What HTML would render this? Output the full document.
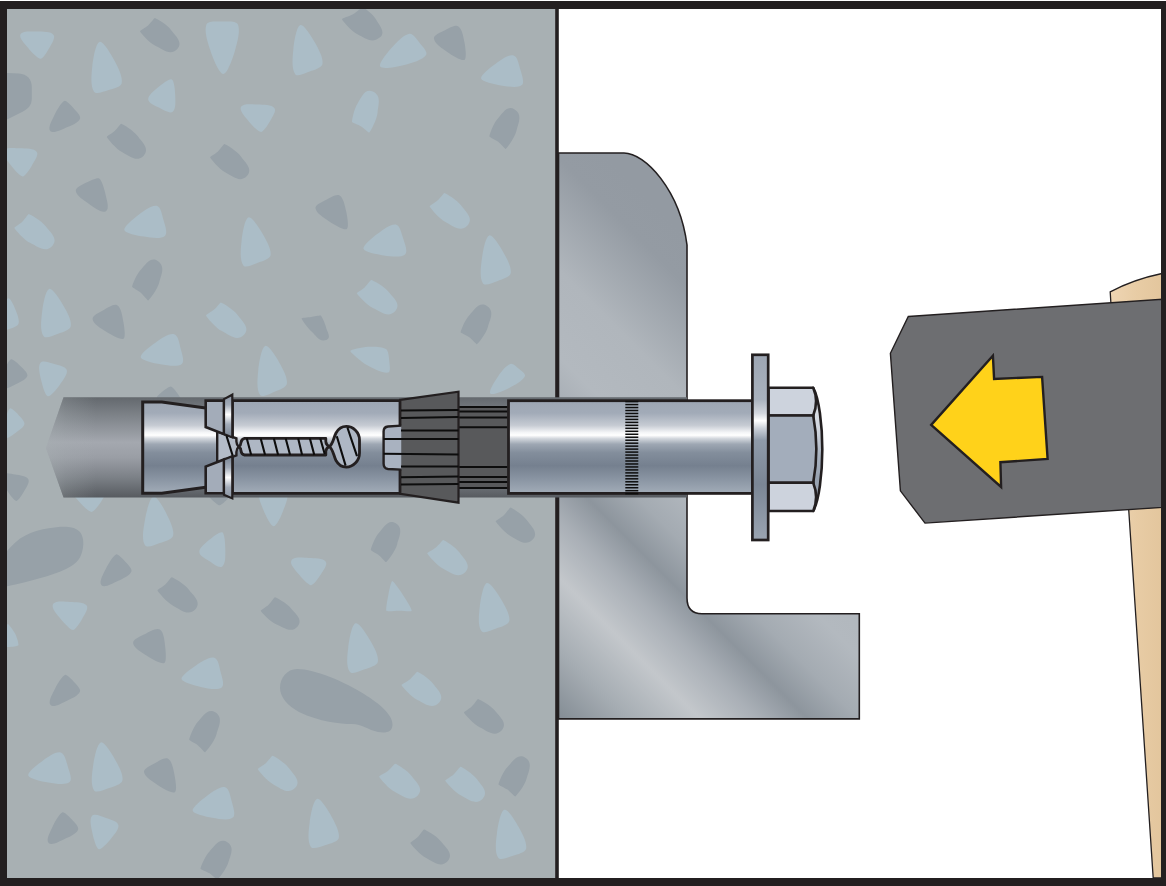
<!DOCTYPE html>
<html lang="en">
<head>
<meta charset="utf-8">
<title>Anchor bolt installation – step illustration</title>
<style>
html,body{margin:0;padding:0;background:#fff;}
body{width:1166px;height:886px;overflow:hidden;font-family:"Liberation Sans",sans-serif;}
svg{display:block;}
</style>
</head>
<body>
<svg width="1166" height="886" viewBox="0 0 1166 886" role="img" aria-label="Anchor bolt hammered through bracket into concrete">

<defs>
<linearGradient id="metal" gradientUnits="userSpaceOnUse" x1="0" y1="400" x2="0" y2="494"><stop offset="0" stop-color="#9da6b3"/><stop offset="0.14" stop-color="#a2abb8"/><stop offset="0.27" stop-color="#c6cbd3"/><stop offset="0.345" stop-color="#f4f5f7"/><stop offset="0.375" stop-color="#ffffff"/><stop offset="0.41" stop-color="#d3d7dd"/><stop offset="0.47" stop-color="#9ea7b3"/><stop offset="0.56" stop-color="#838e9c"/><stop offset="0.70" stop-color="#75808f"/><stop offset="0.85" stop-color="#8b96a4"/><stop offset="1" stop-color="#a3adb9"/></linearGradient>
<linearGradient id="washer" gradientUnits="userSpaceOnUse" x1="0" y1="355" x2="0" y2="540"><stop offset="0" stop-color="#9da6b3"/><stop offset="0.24" stop-color="#a9b2be"/><stop offset="0.315" stop-color="#d3d7de"/><stop offset="0.355" stop-color="#ffffff"/><stop offset="0.395" stop-color="#cdd2da"/><stop offset="0.46" stop-color="#8f9aa9"/><stop offset="0.7" stop-color="#7b8695"/><stop offset="1" stop-color="#9aa4b1"/></linearGradient>
<linearGradient id="hole" gradientUnits="userSpaceOnUse" x1="0" y1="397" x2="0" y2="498">
<stop offset="0" stop-color="#63686d"/><stop offset="0.2" stop-color="#80858b"/><stop offset="0.45" stop-color="#a4a8af"/><stop offset="0.6" stop-color="#9a9ea5"/><stop offset="0.8" stop-color="#7b8086"/><stop offset="1" stop-color="#565a5f"/></linearGradient>
<linearGradient id="holefade" gradientUnits="userSpaceOnUse" x1="46" y1="0" x2="96" y2="0">
<stop offset="0" stop-color="#a8b0b3" stop-opacity="0.5"/><stop offset="0.4" stop-color="#a8b0b3" stop-opacity="0.22"/><stop offset="1" stop-color="#a8b0b3" stop-opacity="0"/></linearGradient>
<linearGradient id="bracket" gradientUnits="userSpaceOnUse" x1="558" y1="728" x2="868" y2="418">
<stop offset="0" stop-color="#7f8890"/><stop offset="0.13" stop-color="#a6adb3"/><stop offset="0.244" stop-color="#c3c7cb"/><stop offset="0.34" stop-color="#a9afb6"/><stop offset="0.418" stop-color="#8d959d"/><stop offset="0.5" stop-color="#a4abb2"/><stop offset="0.6" stop-color="#b3b9bf"/><stop offset="0.74" stop-color="#b0b6bc"/><stop offset="0.92" stop-color="#949ba3"/><stop offset="1" stop-color="#939aa2"/></linearGradient>
<linearGradient id="wood" gradientUnits="userSpaceOnUse" x1="1110" y1="0" x2="1162" y2="0">
<stop offset="0" stop-color="#eed5b3"/><stop offset="0.5" stop-color="#e8cca5"/><stop offset="1" stop-color="#e3c69d"/></linearGradient>
<linearGradient id="ringU" gradientUnits="userSpaceOnUse" x1="0" y1="397" x2="0" y2="436">
<stop offset="0" stop-color="#8f99a7"/><stop offset="0.2" stop-color="#a3acb9"/><stop offset="0.45" stop-color="#ffffff"/><stop offset="0.7" stop-color="#a3acb9"/><stop offset="1" stop-color="#7d8897"/></linearGradient>
<linearGradient id="ringL" gradientUnits="userSpaceOnUse" x1="0" y1="458" x2="0" y2="497">
<stop offset="0" stop-color="#7d8897"/><stop offset="0.25" stop-color="#a3acb9"/><stop offset="0.5" stop-color="#ffffff"/><stop offset="0.75" stop-color="#a3acb9"/><stop offset="1" stop-color="#8f99a7"/></linearGradient>
<linearGradient id="chamfer" gradientUnits="userSpaceOnUse" x1="0" y1="388" x2="0" y2="511">
<stop offset="0" stop-color="#e4e7ed"/><stop offset="0.35" stop-color="#cfd5de"/><stop offset="0.55" stop-color="#a9b3c0"/><stop offset="0.75" stop-color="#96a1b0"/><stop offset="1" stop-color="#a9b3c0"/></linearGradient>
<clipPath id="cc"><rect x="7" y="9" width="550" height="869"/></clipPath>
</defs>


<rect x="0" y="0" width="1166" height="886" fill="#ffffff"/>
<!-- concrete -->
<rect x="7" y="9" width="550" height="869" fill="#a8b0b3"/>
<g clip-path="url(#cc)"><path d="M40.6,58.8 C38.1,58.9 31.8,52.5 28.4,48.3 C25.0,44.2 18.6,38.0 20.5,34.3 C22.6,30.4 31.6,31.5 37.1,31.6 C42.7,31.7 51.0,31.4 53.6,34.9 C55.7,37.8 51.4,44.0 49.3,48.0 C47.1,52.0 42.8,58.8 40.6,58.8Z" fill="#abbdc7"/>
<path d="M99.6,41.9 C103.2,41.0 110.7,53.7 114.4,60.6 C118.1,67.5 122.9,77.1 121.7,83.2 C121.0,87.0 113.3,88.5 108.6,90.0 C104.0,91.4 96.2,94.9 94.0,91.7 C90.3,86.3 91.4,74.7 92.3,66.3 C93.3,58.0 95.7,42.9 99.6,41.9Z" fill="#abbdc7"/>
<path d="M154.9,18.0 C154.3,17.9 150.6,23.2 148.1,25.4 C145.6,27.5 139.8,30.6 140.0,31.2 C140.5,32.5 149.3,43.0 155.8,46.0 C162.3,49.1 170.3,56.3 177.3,48.9 C183.7,42.1 174.9,35.2 171.0,29.9 C167.1,24.5 156.2,18.3 154.9,18.0Z" fill="#97a1a8"/>
<path d="M223.3,73.9 C219.1,73.9 213.2,58.9 210.4,50.6 C207.6,42.3 203.9,30.7 206.5,24.3 C208.1,20.5 216.9,21.5 222.2,21.5 C227.4,21.5 236.1,20.5 237.8,24.3 C240.6,30.5 237.4,42.1 235.0,50.4 C232.6,58.7 227.4,73.8 223.3,73.9Z" fill="#abbdc7"/>
<path d="M7,73 L19,73.6 C27,74 31.8,79.5 31.8,87 L31.8,98 C31.8,105 28.5,108.5 23,111.5 L7,119.5 Z" fill="#97a1a8"/>
<path d="M171.8,79.4 C169.6,78.3 162.2,83.9 158.2,87.3 C154.2,90.7 147.9,95.4 148.2,99.5 C148.4,103.1 155.2,105.8 159.4,107.8 C163.5,109.9 169.9,114.0 172.7,111.7 C176.1,109.1 175.4,100.9 175.2,95.5 C175.1,90.0 174.2,80.5 171.8,79.4Z" fill="#abbdc7"/>
<path d="M64.4,100.9 C66.2,100.3 71.2,105.4 73.8,108.4 C76.4,111.4 81.2,115.8 80.0,118.7 C78.5,122.7 71.3,125.5 66.3,127.5 C61.3,129.6 53.2,134.2 50.3,131.0 C47.4,127.8 52.3,119.7 54.6,114.7 C57.0,109.6 61.9,101.7 64.4,100.9Z" fill="#97a1a8"/>
<path d="M261.1,132.0 C258.6,132.1 252.2,125.5 248.8,121.4 C245.4,117.2 239.0,110.8 241.0,107.0 C243.1,103.1 252.2,104.4 257.9,104.6 C263.5,104.8 271.9,104.6 274.5,108.2 C276.6,111.1 272.2,117.3 270.0,121.3 C267.7,125.3 263.3,132.0 261.1,132.0Z" fill="#abbdc7"/>
<path d="M121.3,123.7 C120.6,123.5 117.1,128.8 114.7,131.0 C112.3,133.2 106.6,136.3 106.9,136.9 C107.3,138.2 115.9,148.9 122.3,152.2 C128.6,155.4 136.7,163.0 143.7,155.7 C150.3,148.7 141.5,141.6 137.6,136.1 C133.7,130.5 122.6,124.0 121.3,123.7Z" fill="#97a1a8"/>
<path d="M224.5,144.1 C223.9,143.9 220.4,149.2 218.0,151.4 C215.6,153.6 209.9,156.7 210.1,157.3 C210.6,158.6 219.1,169.3 225.5,172.6 C231.9,175.8 239.9,183.4 246.9,176.1 C253.6,169.1 244.7,162.0 240.9,156.5 C237.0,151.0 225.8,144.4 224.5,144.1Z" fill="#97a1a8"/>
<path d="M22.7,176.4 C20.2,176.4 14.1,169.6 10.9,165.3 C7.7,161.0 1.7,154.4 3.7,150.8 C5.8,146.9 14.8,148.2 20.3,148.3 C25.9,148.5 34.3,148.3 36.8,151.9 C38.9,155.0 34.3,161.3 31.9,165.4 C29.6,169.5 24.9,176.5 22.7,176.4Z" fill="#abbdc7"/>
<path d="M99.2,178.4 C97.4,177.3 90.3,180.5 86.4,182.6 C82.4,184.8 75.3,187.6 75.8,191.1 C76.4,195.8 84.0,200.5 89.1,203.9 C94.1,207.2 101.8,213.6 105.9,211.2 C109.8,209.0 106.7,199.7 105.5,194.2 C104.4,188.7 101.5,179.7 99.2,178.4Z" fill="#97a1a8"/>
<path d="M300.4,25.0 C303.8,24.0 311.2,36.0 314.9,42.6 C318.6,49.1 323.5,58.3 322.5,64.1 C321.8,67.9 314.3,69.9 309.7,71.6 C305.2,73.3 297.5,77.3 295.2,74.2 C291.4,68.9 292.5,57.4 293.4,49.1 C294.2,40.9 296.6,26.2 300.4,25.0Z" fill="#abbdc7"/>
<path d="M362.8,7.2 C362.1,7.0 356.5,12.3 353.0,14.3 C349.5,16.2 341.8,18.4 342.0,19.2 C342.3,20.6 351.4,31.3 357.9,34.5 C364.4,37.7 371.7,44.1 379.7,37.6 C386.4,32.3 379.1,25.0 376.2,19.7 C373.2,14.4 364.0,7.5 362.8,7.2Z" fill="#97a1a8"/>
<path d="M380.3,66.6 C378.3,63.8 387.0,53.1 391.9,47.6 C396.8,42.1 403.7,34.7 409.4,33.8 C412.9,33.2 416.8,39.3 419.7,42.9 C422.5,46.4 428.2,52.1 426.1,55.0 C422.5,60.1 411.9,63.0 404.3,64.9 C396.6,66.9 382.5,69.7 380.3,66.6Z" fill="#abbdc7"/>
<path d="M464.5,59.9 C461.9,61.3 452.4,55.6 447.3,52.0 C442.1,48.5 434.4,43.5 433.9,38.6 C433.5,35.0 440.9,32.4 445.0,30.3 C449.2,28.2 455.4,24.4 458.4,26.4 C462.2,28.8 463.5,37.0 464.5,42.6 C465.5,48.2 466.8,58.6 464.5,59.9Z" fill="#97a1a8"/>
<path d="M481.1,78.4 C480.4,75.3 489.8,67.8 495.3,63.9 C500.7,60.1 508.4,54.2 513.5,55.4 C517.5,56.2 518.9,64.5 520.3,69.5 C521.7,74.4 524.9,82.5 521.8,85.1 C517.6,88.5 507.7,86.5 500.9,85.4 C494.1,84.2 482.0,81.5 481.1,78.4Z" fill="#abbdc7"/>
<path d="M352.0,122.0 C352.1,122.6 358.3,124.7 361.2,126.4 C364.1,128.2 368.8,133.0 369.3,132.6 C370.4,131.7 377.0,119.7 377.6,112.6 C378.2,105.5 382.0,95.8 372.8,91.6 C364.6,87.9 361.1,98.2 357.6,103.5 C354.0,108.7 351.8,120.8 352.0,122.0Z" fill="#abbdc7"/>
<path d="M489.4,136.4 C489.4,137.1 495.5,139.8 498.2,141.8 C500.9,143.9 505.2,149.2 505.7,148.9 C506.9,148.2 515.0,137.4 516.5,130.5 C518.1,123.7 523.1,114.6 514.6,109.4 C506.9,104.6 502.1,114.2 497.7,118.8 C493.3,123.5 489.4,135.1 489.4,136.4Z" fill="#97a1a8"/>
<path d="M28.8,214.0 C28.2,213.9 24.7,219.4 22.3,221.7 C19.9,224.0 14.2,227.3 14.4,227.9 C14.9,229.3 23.9,239.9 30.5,243.1 C37.0,246.2 45.4,253.7 52.3,246.0 C58.9,238.8 49.8,231.8 45.7,226.3 C41.6,220.7 30.1,214.3 28.8,214.0Z" fill="#abbdc7"/>
<path d="M124.3,229.9 C123.5,226.8 132.9,219.0 138.3,214.9 C143.8,210.9 151.5,204.7 156.7,205.8 C160.7,206.6 162.1,215.0 163.5,220.1 C164.9,225.2 168.1,233.3 164.9,235.9 C160.8,239.4 150.9,237.6 144.1,236.6 C137.3,235.6 125.1,233.0 124.3,229.9Z" fill="#abbdc7"/>
<path d="M248.5,217.4 C251.8,216.4 259.3,228.0 263.0,234.4 C266.7,240.7 271.6,249.6 270.6,255.3 C269.9,259.1 262.4,261.1 257.9,262.8 C253.3,264.5 245.6,268.5 243.4,265.4 C239.5,260.3 240.7,249.0 241.6,240.9 C242.5,232.9 244.8,218.5 248.5,217.4Z" fill="#abbdc7"/>
<path d="M132.1,286.8 C132.1,287.5 138.1,290.5 140.8,292.8 C143.5,295.1 147.6,300.8 148.2,300.5 C149.4,299.8 157.6,289.1 159.3,282.2 C160.9,275.3 166.0,266.5 157.7,260.9 C150.3,255.9 145.2,265.2 140.8,269.7 C136.3,274.2 132.1,285.5 132.1,286.8Z" fill="#97a1a8"/>
<path d="M49.2,288.9 C52.4,287.9 59.7,299.3 63.3,305.6 C67.0,311.8 71.9,320.6 70.8,326.2 C70.1,330.0 62.7,332.0 58.1,333.7 C53.5,335.4 45.9,339.3 43.6,336.2 C39.8,331.2 41.2,320.0 42.1,312.1 C43.0,304.1 45.5,290.0 49.2,288.9Z" fill="#abbdc7"/>
<path d="M8.3,298.3 C10.5,297.9 14.0,305.9 15.7,310.3 C17.4,314.6 19.8,320.6 18.4,324.0 C17.2,326.8 11.6,328.2 7.8,329.4 C4.1,330.5 -2.5,333.4 -3.9,330.7 C-6.1,326.7 -2.8,318.8 -0.7,313.4 C1.4,308.0 5.7,298.8 8.3,298.3Z" fill="#abbdc7"/>
<path d="M123.5,338.8 C121.0,340.3 111.5,335.1 106.3,331.8 C101.1,328.6 93.2,324.1 92.6,319.3 C92.2,315.6 99.5,312.4 103.7,310.1 C107.8,307.7 114.0,303.4 117.2,305.3 C121.1,307.5 122.3,315.8 123.3,321.4 C124.4,327.1 125.8,337.4 123.5,338.8Z" fill="#97a1a8"/>
<path d="M220.9,302.4 C220.3,302.2 216.6,307.5 214.1,309.6 C211.7,311.8 205.8,314.7 206.0,315.4 C206.5,316.7 215.3,327.8 221.9,331.1 C228.5,334.5 236.7,342.3 244.0,334.8 C250.8,327.8 241.6,320.5 237.6,314.9 C233.6,309.3 222.2,302.7 220.9,302.4Z" fill="#abbdc7"/>
<path d="M140.7,357.2 C139.9,354.1 149.7,346.5 155.4,342.7 C161.0,338.8 168.9,333.0 174.2,334.2 C178.1,335.1 179.4,343.4 180.6,348.4 C181.9,353.4 184.9,361.4 181.8,363.9 C177.5,367.3 167.5,365.4 160.6,364.3 C153.7,363.1 141.5,360.4 140.7,357.2Z" fill="#abbdc7"/>
<path d="M11.0,359.2 C12.7,358.6 17.9,363.3 20.6,366.2 C23.4,369.0 28.1,373.0 27.3,376.0 C26.2,379.7 19.6,382.4 15.2,384.5 C10.8,386.6 3.7,391.0 0.9,388.3 C-2.0,385.4 1.6,377.7 3.3,372.9 C5.0,368.0 8.7,360.1 11.0,359.2Z" fill="#97a1a8"/>
<path d="M47.8,396.2 C45.2,395.6 42.4,385.8 41.1,380.1 C39.9,374.5 37.6,366.2 40.5,362.7 C42.8,359.9 49.9,362.8 54.3,364.0 C58.7,365.3 65.9,366.6 66.8,370.1 C67.9,374.2 62.9,380.5 59.7,384.9 C56.5,389.2 50.3,396.9 47.8,396.2Z" fill="#abbdc7"/>
<path d="M170.9,386.4 C172.2,386.5 175.4,390.3 177.0,392.8 C178.6,395.2 182.0,399.2 180.5,400.9 C178.4,403.2 172.5,402.3 168.5,401.9 C164.6,401.5 158.5,401.4 157.0,398.7 C155.9,396.5 160.5,393.3 162.8,391.3 C165.2,389.2 169.4,386.2 170.9,386.4Z" fill="#97a1a8"/>
<path d="M265.3,345.9 C268.6,344.8 275.9,356.5 279.5,362.9 C283.2,369.3 287.9,378.1 286.9,383.8 C286.3,387.6 279.0,390.0 274.6,391.8 C270.1,393.7 262.4,398.1 260.1,395.0 C256.3,389.8 257.4,378.2 258.3,370.0 C259.2,361.7 261.6,347.1 265.3,345.9Z" fill="#abbdc7"/>
<path d="M346.8,229.0 C344.2,230.5 334.5,224.9 329.3,221.4 C324.0,217.9 316.1,213.1 315.5,208.2 C315.0,204.6 322.4,201.8 326.4,199.7 C330.4,197.5 336.5,193.6 339.6,195.5 C343.5,197.8 345.0,206.0 346.2,211.6 C347.4,217.2 349.1,227.6 346.8,229.0Z" fill="#97a1a8"/>
<path d="M444.5,192.9 C443.9,192.7 440.2,198.1 437.7,200.3 C435.3,202.6 429.4,205.7 429.6,206.3 C430.1,207.7 438.9,218.7 445.5,222.0 C452.1,225.3 460.3,233.1 467.5,225.5 C474.3,218.4 465.2,211.2 461.2,205.5 C457.2,199.9 445.8,193.2 444.5,192.9Z" fill="#abbdc7"/>
<path d="M363.5,248.8 C362.6,245.8 372.1,237.8 377.5,233.8 C382.9,229.7 390.6,223.5 395.9,224.5 C399.9,225.3 401.6,233.6 403.2,238.6 C404.7,243.7 408.2,251.7 405.0,254.4 C400.8,258.0 390.7,256.3 383.8,255.4 C376.8,254.4 364.4,252.0 363.5,248.8Z" fill="#abbdc7"/>
<path d="M489.3,235.4 C492.6,234.4 499.8,246.1 503.4,252.4 C507.0,258.8 511.9,267.7 510.7,273.3 C510.0,277.2 502.4,279.2 497.8,280.9 C493.2,282.5 485.3,286.5 483.0,283.4 C479.3,278.2 480.8,266.9 481.9,258.8 C482.9,250.8 485.6,236.5 489.3,235.4Z" fill="#abbdc7"/>
<path d="M371.3,280.1 C370.6,279.9 367.1,285.2 364.7,287.4 C362.3,289.6 356.6,292.7 356.8,293.3 C357.4,294.6 366.6,305.2 373.3,308.3 C380.0,311.3 388.4,318.7 395.4,311.0 C401.8,303.8 392.4,297.0 388.3,291.6 C384.1,286.3 372.6,280.3 371.3,280.1Z" fill="#abbdc7"/>
<path d="M460.6,332.2 C460.6,332.8 466.6,335.4 469.3,337.3 C472.1,339.3 476.3,344.5 476.9,344.2 C478.1,343.5 486.3,333.3 488.0,326.7 C489.8,320.0 495.1,311.2 486.9,306.0 C479.2,301.0 474.1,310.3 469.6,314.9 C465.0,319.4 460.6,330.9 460.6,332.2Z" fill="#97a1a8"/>
<path d="M301.6,318.5 C301.6,317.8 308.0,317.5 311.2,317.0 C314.4,316.6 320.3,315.2 320.8,315.6 C321.5,316.1 325.1,323.1 326.0,327.2 C326.9,331.3 332.0,338.2 326.3,339.9 C318.9,342.3 316.0,335.3 311.8,331.7 C307.7,328.1 301.7,319.6 301.6,318.5Z" fill="#97a1a8"/>
<path d="M350.3,350.9 C350.3,350.0 362.0,347.1 368.0,346.8 C374.0,346.5 382.5,346.8 386.0,349.1 C388.4,350.7 388.9,356.7 389.2,360.6 C389.6,364.6 391.0,372.0 388.3,372.6 C383.2,373.6 373.7,368.8 367.3,365.2 C361.0,361.5 350.2,352.1 350.3,350.9Z" fill="#abbdc7"/>
<path d="M490.3,393.4 C488.3,391.5 494.3,381.8 497.7,376.9 C501.1,371.9 506.0,365.6 510.4,363.9 C512.7,363.0 516.3,366.7 518.8,368.8 C521.2,370.8 526.0,374.0 524.9,376.2 C522.6,380.8 515.0,385.1 509.1,387.9 C503.3,390.8 492.5,395.6 490.3,393.4Z" fill="#abbdc7"/>
<path d="M9.9,408.4 C11.3,407.5 16.1,412.2 18.5,414.9 C21.0,417.5 24.8,421.2 24.4,424.0 C24.0,427.0 19.3,430.2 16.1,432.4 C12.9,434.6 7.7,439.4 5.4,437.4 C2.5,434.8 4.3,427.3 5.0,422.5 C5.8,417.6 7.8,409.5 9.9,408.4Z" fill="#abbdc7"/>
<path d="M16.3,500.9 C13.9,500.6 8.9,493.6 6.3,489.2 C3.8,484.8 -1.0,478.2 1.1,474.8 C2.9,471.6 10.5,473.8 15.1,474.5 C19.7,475.3 26.6,476.0 28.3,479.2 C29.9,482.1 26.3,487.5 24.2,491.1 C22.2,494.8 18.2,501.1 16.3,500.9Z" fill="#97a1a8"/>
<path d="M91.6,511.9 C89.1,512.0 82.6,505.8 79.2,501.7 C75.7,497.7 69.0,491.4 71.1,487.8 C73.4,483.7 82.9,484.6 88.9,484.6 C94.9,484.6 104.0,484.0 106.8,487.8 C109.0,490.8 103.9,497.2 101.4,501.2 C98.8,505.3 93.9,511.9 91.6,511.9Z" fill="#abbdc7"/>
<path d="M153.5,496.6 C156.8,495.7 163.5,507.8 166.8,514.4 C170.1,520.9 174.5,530.1 173.1,535.7 C172.2,539.5 164.7,541.4 159.9,543.0 C155.2,544.6 147.2,548.6 145.0,545.3 C141.4,539.8 143.4,528.4 144.9,520.2 C146.3,512.0 149.7,497.6 153.5,496.6Z" fill="#abbdc7"/>
<path d="M219.7,505.2 C218.0,505.2 213.5,501.4 211.1,498.9 C208.6,496.3 203.6,492.3 205.2,490.0 C207.3,487.0 214.5,487.5 219.1,487.5 C223.8,487.5 230.9,487.1 233.1,490.0 C234.7,492.1 230.0,496.2 227.8,498.8 C225.5,501.3 221.3,505.2 219.7,505.2Z" fill="#97a1a8"/>
<path d="M273.7,526.2 C270.7,526.2 265.7,515.7 263.3,509.7 C260.8,503.7 257.1,495.1 259.2,490.5 C260.7,487.1 268.5,488.0 273.2,488.0 C277.9,488.0 285.5,487.2 287.1,490.5 C289.3,495.0 285.9,503.6 283.6,509.6 C281.4,515.6 276.8,526.2 273.7,526.2Z" fill="#abbdc7"/>
<path d="M7,551 C12,545 18,539 25.4,535.4 C33,531.5 41,529.5 48.8,528.3 C55,527.3 60,526.6 66,526.8 C72,527 76.5,528.5 79.2,531.3 C82.5,534.5 83.5,539.5 83.3,544.5 C83,550 81.5,555 79.2,558.8 C76,563.5 71,566.5 66,568.9 C58,572.7 49,575.5 40.6,578 C30,581 18,584 7,586.3 Z" fill="#97a1a8"/>
<path d="M222.3,532.3 C220.2,531.1 212.9,536.7 209.0,540.0 C205.1,543.3 199.2,547.9 199.3,551.9 C199.3,555.5 205.6,558.8 209.5,561.2 C213.3,563.7 219.4,568.6 222.3,566.4 C225.9,563.7 225.3,555.1 225.3,549.3 C225.3,543.6 224.6,533.6 222.3,532.3Z" fill="#abbdc7"/>
<path d="M116.0,554.4 C117.7,553.8 122.7,558.8 125.3,561.7 C127.8,564.5 132.5,568.8 131.4,571.6 C129.8,575.7 122.7,578.9 117.7,581.1 C112.7,583.4 104.4,588.4 101.5,585.3 C98.4,582.0 103.5,573.7 106.0,568.5 C108.4,563.4 113.5,555.4 116.0,554.4Z" fill="#97a1a8"/>
<path d="M171.7,577.3 C171.1,577.1 167.6,582.4 165.3,584.6 C162.9,586.8 157.3,589.9 157.5,590.5 C158.0,591.8 166.9,602.7 173.5,605.9 C180.0,609.2 188.4,616.9 195.4,609.3 C202.1,602.1 192.8,595.0 188.7,589.5 C184.6,583.9 173.0,577.5 171.7,577.3Z" fill="#97a1a8"/>
<path d="M73.1,630.0 C70.5,630.0 64.1,623.3 60.7,619.0 C57.3,614.7 50.9,608.1 53.0,604.3 C55.1,600.4 64.3,601.7 69.9,601.9 C75.6,602.1 84.1,601.8 86.7,605.5 C88.9,608.5 84.4,614.9 82.1,619.0 C79.8,623.1 75.3,630.0 73.1,630.0Z" fill="#abbdc7"/>
<path d="M7.9,623.9 C8.6,623.9 13.3,630.1 15.1,633.6 C16.9,637.2 18.9,644.3 18.4,645.2 C18.1,645.9 11.8,647.0 8.4,647.0 C5.0,647.0 -1.3,645.9 -1.7,645.2 C-2.1,644.4 -0.4,637.2 1.2,633.7 C2.8,630.1 7.3,623.9 7.9,623.9Z" fill="#abbdc7"/>
<path d="M164.3,663.1 C161.7,664.5 152.1,659.2 146.9,655.8 C141.6,652.5 133.4,647.9 133.1,643.0 C132.8,639.0 140.8,636.1 145.2,633.9 C149.7,631.6 156.5,627.5 159.9,629.6 C163.7,631.9 164.4,640.3 165.1,645.9 C165.8,651.5 166.7,661.8 164.3,663.1Z" fill="#97a1a8"/>
<path d="M275.0,597.2 C274.3,597.1 270.9,602.5 268.6,604.7 C266.2,607.0 260.5,610.3 260.8,610.9 C261.3,612.1 270.3,621.8 276.7,624.5 C283.1,627.2 291.1,633.8 297.6,626.4 C303.6,619.6 294.9,613.2 290.9,608.2 C287.0,603.1 276.2,597.4 275.0,597.2Z" fill="#97a1a8"/>
<path d="M181.5,679.0 C180.8,676.0 190.5,669.0 196.0,665.4 C201.5,661.9 209.3,656.5 214.3,657.8 C218.2,658.8 219.4,667.0 220.6,672.0 C221.9,676.9 224.9,685.1 221.7,687.5 C217.3,690.7 207.5,688.3 200.8,686.9 C194.1,685.4 182.2,682.2 181.5,679.0Z" fill="#abbdc7"/>
<path d="M370.8,550.1 C370.8,550.8 376.5,553.4 379.1,555.4 C381.6,557.3 385.6,562.5 386.1,562.1 C387.3,561.4 395.5,551.0 397.2,544.2 C398.8,537.5 404.1,528.5 395.7,523.3 C388.1,518.4 383.3,528.0 379.0,532.7 C374.6,537.4 370.8,548.9 370.8,550.1Z" fill="#97a1a8"/>
<path d="M510.5,507.6 C509.9,507.5 506.2,512.9 503.8,515.2 C501.3,517.5 495.4,520.7 495.6,521.3 C496.1,522.6 504.8,533.2 511.2,536.4 C517.7,539.6 525.7,547.0 532.7,539.6 C539.3,532.7 530.6,525.6 526.7,520.1 C522.9,514.5 511.8,507.9 510.5,507.6Z" fill="#97a1a8"/>
<path d="M443.3,540.0 C442.6,539.9 438.6,545.3 435.9,547.4 C433.2,549.6 427.0,552.6 427.2,553.2 C427.7,554.6 436.7,565.5 443.3,568.7 C449.9,572.0 458.0,579.4 465.4,572.0 C472.1,565.3 463.3,558.0 459.5,552.5 C455.6,547.0 444.6,540.3 443.3,540.0Z" fill="#abbdc7"/>
<path d="M311.1,585.2 C308.6,585.1 302.3,578.7 299.0,574.5 C295.7,570.4 289.3,564.0 291.4,560.4 C293.7,556.5 303.0,557.7 308.8,558.0 C314.5,558.2 323.2,558.0 325.8,561.7 C327.9,564.7 323.0,570.8 320.6,574.8 C318.1,578.7 313.3,585.2 311.1,585.2Z" fill="#abbdc7"/>
<path d="M392.2,581.1 C393.6,581.1 399.9,590.3 403.1,595.2 C406.4,600.1 412.1,609.3 411.7,610.8 C411.4,612.0 403.2,610.8 399.1,610.8 C394.9,610.8 387.1,611.8 386.4,610.8 C385.6,609.7 387.2,600.7 388.2,595.8 C389.1,590.8 391.1,581.2 392.2,581.1Z" fill="#abbdc7"/>
<path d="M486.9,583.0 C490.3,582.0 497.8,593.6 501.5,600.0 C505.3,606.4 510.3,615.3 509.3,621.0 C508.6,624.8 500.9,626.8 496.2,628.5 C491.5,630.2 483.7,634.2 481.4,631.0 C477.5,625.9 478.9,614.6 479.8,606.5 C480.8,598.5 483.3,584.1 486.9,583.0Z" fill="#abbdc7"/>
<path d="M355.6,623.2 C359.0,622.1 366.5,634.0 370.2,640.5 C374.0,646.9 379.0,656.0 377.9,661.8 C377.2,665.7 369.5,667.7 364.7,669.3 C360.0,671.0 352.1,675.0 349.8,671.8 C345.9,666.6 347.3,655.1 348.3,647.0 C349.3,638.8 351.9,624.3 355.6,623.2Z" fill="#abbdc7"/>
<path d="M64.9,674.9 C66.5,674.3 71.4,679.1 74.0,681.9 C76.5,684.7 81.1,688.9 80.0,691.6 C78.5,695.6 71.5,698.8 66.5,701.0 C61.6,703.2 53.5,708.2 50.6,705.0 C47.6,701.8 52.6,693.7 55.0,688.7 C57.4,683.6 62.4,675.8 64.9,674.9Z" fill="#97a1a8"/>
<path d="M189.2,739.8 C189.2,740.4 195.1,743.1 197.8,745.2 C200.4,747.3 204.5,752.6 205.1,752.2 C206.3,751.5 214.8,740.8 216.6,733.9 C218.4,727.0 223.8,717.8 215.3,712.3 C207.5,707.2 202.4,717.1 197.9,721.8 C193.4,726.6 189.2,738.5 189.2,739.8Z" fill="#97a1a8"/>
<path d="M28.3,775.4 C27.4,772.3 37.0,764.8 42.4,761.0 C47.8,757.1 55.5,751.3 60.6,752.4 C64.7,753.2 66.3,761.4 67.8,766.4 C69.3,771.4 72.7,779.5 69.6,782.1 C65.3,785.6 55.2,783.6 48.3,782.4 C41.4,781.3 29.1,778.6 28.3,775.4Z" fill="#abbdc7"/>
<path d="M100.8,742.4 C104.1,741.4 111.4,753.1 115.0,759.4 C118.6,765.8 123.6,774.7 122.4,780.4 C121.6,784.3 113.9,786.3 109.1,787.9 C104.4,789.6 96.4,793.6 94.1,790.4 C90.3,785.2 92.0,773.9 93.1,765.8 C94.2,757.8 97.1,743.5 100.8,742.4Z" fill="#abbdc7"/>
<path d="M174.8,792.2 C172.3,793.7 162.8,788.3 157.6,784.9 C152.5,781.6 144.6,776.9 144.0,772.1 C143.6,768.5 150.8,765.5 154.9,763.2 C158.9,761.0 165.0,756.8 168.1,758.7 C172.0,761.0 173.4,769.2 174.5,774.9 C175.6,780.5 177.2,790.8 174.8,792.2Z" fill="#97a1a8"/>
<path d="M192.7,810.7 C192.0,807.6 201.4,800.0 206.8,796.0 C212.2,792.1 220.0,786.0 225.1,787.2 C229.2,788.1 230.4,796.6 231.8,801.7 C233.1,806.8 236.1,815.0 232.9,817.6 C228.8,821.0 218.9,818.9 212.2,817.7 C205.5,816.6 193.5,813.8 192.7,810.7Z" fill="#abbdc7"/>
<path d="M62.5,812.3 C64.2,811.7 69.2,816.7 71.9,819.6 C74.5,822.5 79.2,826.8 78.1,829.7 C76.6,833.7 69.5,836.7 64.6,838.9 C59.6,841.2 51.5,846.0 48.6,842.9 C45.6,839.6 50.5,831.5 52.8,826.3 C55.1,821.2 60.0,813.2 62.5,812.3Z" fill="#97a1a8"/>
<path d="M98.8,849.3 C96.2,848.4 93.5,838.7 92.4,833.1 C91.3,827.5 89.0,819.1 92.1,815.8 C94.6,813.0 101.7,816.5 106.1,818.1 C110.5,819.6 117.6,821.5 118.4,825.1 C119.3,829.1 114.1,834.9 110.8,839.0 C107.5,843.0 101.1,850.0 98.8,849.3Z" fill="#abbdc7"/>
<path d="M200.5,868.7 C200.5,869.4 206.7,871.5 209.5,873.3 C212.2,875.1 216.8,879.8 217.3,879.5 C218.5,878.9 226.5,868.9 228.3,862.5 C230.0,856.0 235.4,847.2 227.3,842.2 C219.4,837.4 214.3,846.6 209.7,851.2 C205.0,855.8 200.5,867.4 200.5,868.7Z" fill="#97a1a8"/>
<path d="M272.6,755.8 C271.9,755.7 268.2,761.0 265.8,763.2 C263.3,765.4 257.4,768.4 257.7,769.1 C258.2,770.4 266.9,781.2 273.4,784.4 C279.9,787.7 288.0,795.3 295.2,787.8 C301.8,780.9 292.9,773.8 289.0,768.2 C285.1,762.7 273.9,756.1 272.6,755.8Z" fill="#abbdc7"/>
<path d="M297,669 C315,669 345,682 364,694 C380,704 393,715 392.5,725 C392,733 385,733 378,732 C368,730 362,724 352,724 C340,724 320,722 299,712 C288,706 280,697 280,688 C280,678 287,669 297,669 Z" fill="#97a1a8"/>
<path d="M417.4,671.8 C416.7,671.7 412.7,677.0 410.1,679.2 C407.5,681.4 401.3,684.4 401.5,685.0 C402.0,686.3 410.9,696.8 417.4,699.9 C423.9,702.9 431.9,710.0 439.0,702.7 C445.5,696.1 436.9,689.1 433.1,683.8 C429.4,678.4 418.6,672.1 417.4,671.8Z" fill="#abbdc7"/>
<path d="M478.1,698.9 C477.5,698.8 474.1,704.2 471.7,706.5 C469.4,708.8 463.7,712.0 463.9,712.6 C464.5,713.9 473.5,724.5 480.1,727.5 C486.6,730.6 495.0,738.0 501.8,730.3 C508.3,723.1 499.1,716.3 495.0,710.8 C490.9,705.4 479.4,699.2 478.1,698.9Z" fill="#97a1a8"/>
<path d="M498.5,784.4 C498.5,785.1 504.7,787.6 507.5,789.6 C510.3,791.6 514.7,796.8 515.3,796.4 C516.5,795.8 524.8,785.4 526.5,778.7 C528.2,772.0 533.6,763.0 525.3,757.8 C517.5,752.8 512.3,762.2 507.7,766.8 C503.0,771.4 498.5,783.1 498.5,784.4Z" fill="#97a1a8"/>
<path d="M395.3,763.8 C394.6,763.6 390.5,768.9 387.9,771.1 C385.2,773.2 378.9,776.1 379.2,776.7 C379.7,778.1 388.8,789.1 395.5,792.3 C402.2,795.6 410.4,803.0 417.8,795.5 C424.5,788.7 415.5,781.6 411.6,776.1 C407.7,770.5 396.6,764.0 395.3,763.8Z" fill="#abbdc7"/>
<path d="M460.6,766.7 C459.9,766.5 456.1,772.1 453.6,774.4 C451.0,776.7 445.0,779.9 445.2,780.6 C445.7,781.9 454.6,792.5 461.1,795.6 C467.6,798.8 475.7,806.1 482.7,798.7 C489.3,791.8 480.6,784.7 476.8,779.1 C472.9,773.6 461.9,766.9 460.6,766.7Z" fill="#abbdc7"/>
<path d="M317.1,798.9 C320.5,797.9 327.8,809.9 331.5,816.4 C335.1,823.0 340.0,832.2 338.8,837.9 C338.0,841.7 330.3,843.4 325.6,844.9 C321.0,846.4 313.1,850.0 310.9,846.9 C307.2,841.6 308.6,830.4 309.7,822.3 C310.7,814.3 313.4,799.9 317.1,798.9Z" fill="#abbdc7"/>
<path d="M424.1,829.6 C423.5,829.4 420.2,834.7 417.9,837.0 C415.6,839.2 410.2,842.4 410.4,843.0 C410.9,844.3 419.7,854.9 426.2,858.1 C432.7,861.2 441.0,868.8 447.8,861.1 C454.3,853.9 445.1,847.0 441.0,841.6 C436.9,836.1 425.4,829.8 424.1,829.6Z" fill="#97a1a8"/>
<path d="M504.4,809.7 C507.9,808.7 515.2,820.7 518.8,827.3 C522.4,833.8 527.3,843.0 526.1,848.7 C525.3,852.5 517.6,854.2 512.9,855.7 C508.3,857.2 500.4,860.8 498.2,857.7 C494.5,852.5 495.9,841.2 497.0,833.1 C498.0,825.1 500.7,810.7 504.4,809.7Z" fill="#abbdc7"/></g>
<line x1="557" y1="9" x2="557" y2="878" stroke="#231f20" stroke-width="3.6"/>
<!-- bracket -->
<path d="M558.5,153 L624,153 C645,153 680,190 687,245 L687,598 Q687,613.7 702,613.7 L859.3,613.7 L859.3,718.9 L558.5,718.9 Z" fill="url(#bracket)" stroke="#231f20" stroke-width="1.6" stroke-linejoin="miter"/>
<!-- hole -->
<path d="M63.5,397.3 L687,397.3 L687,497.4 L63.5,497.4 L46,448 Z" fill="url(#hole)"/>
<path d="M63.5,397.3 L130,397.3 L130,497.4 L63.5,497.4 L46,448 Z" fill="url(#holefade)"/>
<!-- hammer -->
<path d="M1110.9,303 L1110.2,291.8 Q1134,279.3 1162,273.5 L1162,303 Z" fill="url(#wood)" stroke="#231f20" stroke-width="1.3" stroke-linejoin="miter"/>
<path d="M1128.4,505 L1162,505 L1162,878 L1153.2,878 Z" fill="url(#wood)" stroke="#231f20" stroke-width="1.3"/>
<path d="M908.3,316.5 L1162,299.3 L1162,507.4 L925,523.1 L900.4,490.8 L890.4,353.3 Z" fill="#6d6e71" stroke="#231f20" stroke-width="1.4" stroke-linejoin="miter"/>
<path d="M931.2,424.9 L992.9,355.8 L994.1,378.9 L1042.1,376.9 L1047.6,459 L1000.4,462.2 L1001.1,487 Z" fill="#ffd21a" stroke="#231f20" stroke-width="2.4" stroke-linejoin="miter"/>
<!-- anchor: cone -->
<path d="M142.7,402 L161.8,402 L205.7,408 L218,408 L218,487.3 L205.7,487.3 L161.8,493.3 L142.7,493.3 Z" fill="url(#metal)"/>
<path d="M205.7,408 L161.8,402 L142.7,402 L142.7,493.3 L161.8,493.3 L205.7,487.3" fill="none" stroke="#231f20" stroke-width="3" stroke-linejoin="miter"/>
<g stroke="#231f20" stroke-width="2.8" stroke-linejoin="miter" fill="url(#metal)">
<!-- sleeve body -->
<path d="M232.5,400.6 L400,400.6 L400,493.3 L232.5,493.3 Z"/>
</g>
<g stroke="#231f20" stroke-width="2.6" stroke-linejoin="miter">
<path d="M217.2,431.3 L236.4,438.3 V441.5 Q236.5,445 238.8,446.7 Q236.5,448.5 236.4,452 V455.3 L217.2,462.3 Z" fill="#b4bcc8" stroke-width="2.4"/>
<path d="M205.7,400.6 L224,400.6 L224,434.1 L205.7,427 Z" fill="#a3acb9"/>
<path d="M205.7,493.3 L224,493.3 L224,459.5 L205.7,466.6 Z" fill="#a3acb9"/>
<path d="M224,399.1 L232.3,394.7 L232.3,437.4 L224,434.1 Z" fill="url(#ringU)" stroke-width="2.2"/>
<path d="M224,494.8 L232.3,498.4 L232.3,456.2 L224,459.5 Z" fill="url(#ringL)" stroke-width="2.2"/>
</g>
<!-- rod -->
<g stroke="#231f20" stroke-width="2.8" stroke-linejoin="round" fill="#aeb7c4">
<path d="M244.5,438.4 L325.8,438.4 L325.8,441.5 Q326,445 329.4,446.6 Q326,448.2 325.8,451.5 L325.8,455 L244.5,455 Q241.5,454.5 241,451 Q240.8,448 238.8,446.7 Q240.8,445.5 241,442.5 Q241.5,439 244.5,438.4 Z"/>
<path d="M329.4,446.6 C333,444 333.5,438 336,433 C338.5,428.5 342,426.4 346.3,426.4 C353,426.4 359.5,432 359.5,440 L359.5,453 C359.5,461 353,467.1 346.3,467.1 C342,467.1 338.5,465 336,460.5 C333.5,455.5 333,449 329.4,446.6 Z"/>
</g>
<g stroke="#0d0d0d" stroke-width="2.1" fill="none">
<path d="M246.8,438.5 L251.2,455 M260.7,438.5 L265.1,455 M273.9,438.5 L278.1,455 M285.7,438.5 L290.1,455 M298.2,438.5 L302.1,455 M309.9,438.5 L314.3,455 M320.3,438.5 L324.7,454"/>
<path d="M336.8,436.3 L345.6,465.6 M347.4,427.5 L357,456.1"/>
<path d="M226.4,435.5 L232.6,455.4"/>
</g>
<!-- dark section 2 -->
<rect x="458.5" y="406.4" width="50" height="81.6" fill="#58595b"/>
<g stroke="#0d0d0d" stroke-width="2" fill="none">
<path d="M458.5,406.9 H508 M458.5,411.6 H508 M458.5,417.4 H508 M458.5,427.3 H508 M458.5,466.9 H508 M458.5,476.9 H508 M458.5,482 H508 M458.5,487.9 H508"/>
</g>
<!-- expansion cone dark -->
<path d="M400.3,399.8 L458.5,391.7 L458.5,502.6 L400.3,493.8 Z" fill="#58595b" stroke="#231f20" stroke-width="2.2" stroke-linejoin="miter"/>
<!-- small tab -->
<path d="M401.4,425.6 L388,426.5 Q383.6,427 383.6,431.5 L383.6,463.5 Q383.6,468.5 388,469 L401.4,469.6 Z" fill="#a9b2c0"/>
<path d="M401.4,425.6 L388,426.5 Q383.6,427 383.6,431.5 L383.6,463.5 Q383.6,468.5 388,469 L401.4,469.6" fill="none" stroke="#231f20" stroke-width="2.4"/>
<g stroke="#0d0d0d" stroke-width="2" fill="none">
<path d="M401,410.4 L458.5,410.1 M401,417.9 L458.5,417 M401,430.6 L458.5,430.6 M383.6,439 L458.5,439 M383.6,453.8 L458.5,454.6 M401,466.6 L458.5,466.6 M401,477.2 L458.5,476.6 M401,484.5 L458.5,484"/>
</g>
<!-- shaft -->
<rect x="508.5" y="400.7" width="244" height="92.7" fill="url(#metal)" stroke="#231f20" stroke-width="2.8"/>
<g stroke="#0d0d0d" stroke-width="1.5"><line x1="625.3" y1="401.60" x2="638.3" y2="401.60"/><line x1="625.3" y1="404.57" x2="638.3" y2="404.57"/><line x1="625.3" y1="407.54" x2="638.3" y2="407.54"/><line x1="625.3" y1="410.51" x2="638.3" y2="410.51"/><line x1="625.3" y1="413.48" x2="638.3" y2="413.48"/><line x1="625.3" y1="416.45" x2="638.3" y2="416.45"/><line x1="625.3" y1="419.42" x2="638.3" y2="419.42"/><line x1="625.3" y1="422.39" x2="638.3" y2="422.39"/><line x1="625.3" y1="425.36" x2="638.3" y2="425.36"/><line x1="625.3" y1="428.33" x2="638.3" y2="428.33"/><line x1="625.3" y1="431.30" x2="638.3" y2="431.30"/><line x1="625.3" y1="434.27" x2="638.3" y2="434.27"/><line x1="625.3" y1="437.24" x2="638.3" y2="437.24"/><line x1="625.3" y1="440.21" x2="638.3" y2="440.21"/><line x1="625.3" y1="443.18" x2="638.3" y2="443.18"/><line x1="625.3" y1="446.15" x2="638.3" y2="446.15"/><line x1="625.3" y1="449.12" x2="638.3" y2="449.12"/><line x1="625.3" y1="452.09" x2="638.3" y2="452.09"/><line x1="625.3" y1="455.06" x2="638.3" y2="455.06"/><line x1="625.3" y1="458.03" x2="638.3" y2="458.03"/><line x1="625.3" y1="461.00" x2="638.3" y2="461.00"/><line x1="625.3" y1="463.97" x2="638.3" y2="463.97"/><line x1="625.3" y1="466.94" x2="638.3" y2="466.94"/><line x1="625.3" y1="469.91" x2="638.3" y2="469.91"/><line x1="625.3" y1="472.88" x2="638.3" y2="472.88"/><line x1="625.3" y1="475.85" x2="638.3" y2="475.85"/><line x1="625.3" y1="478.82" x2="638.3" y2="478.82"/><line x1="625.3" y1="481.79" x2="638.3" y2="481.79"/><line x1="625.3" y1="484.76" x2="638.3" y2="484.76"/><line x1="625.3" y1="487.73" x2="638.3" y2="487.73"/><line x1="625.3" y1="490.70" x2="638.3" y2="490.70"/><line x1="625.3" y1="493.67" x2="638.3" y2="493.67"/></g>
<!-- hex head -->
<g stroke="#231f20" stroke-width="2.6" stroke-linejoin="round">
<path d="M813.2,387.8 C819,398 822.3,425 822.3,449.5 C822.3,474 819,501 813.2,511 L813.2,387.8 Z" fill="url(#chamfer)"/>
<path d="M768.5,387.8 L813.2,387.8 Q819,401 813.2,415.5 L768.5,415.5 Z" fill="#cdd3dd"/>
<path d="M768.5,415.5 L813.2,415.5 Q819.5,449 813.2,482.8 L768.5,482.8 Z" fill="#a3adbb"/>
<path d="M768.5,482.8 L813.2,482.8 Q819,497 813.2,511 L768.5,511 Z" fill="#cdd3dd"/>
</g>
<!-- washer -->
<rect x="752.4" y="354.8" width="15.8" height="185.2" fill="url(#washer)" stroke="#231f20" stroke-width="2.7"/>
<!-- frame -->
<path d="M0,1 H1166 V886 H0 Z M7,9 V878 H1161 V9 Z" fill="#231f20" fill-rule="evenodd"/>

</svg>
</body>
</html>
